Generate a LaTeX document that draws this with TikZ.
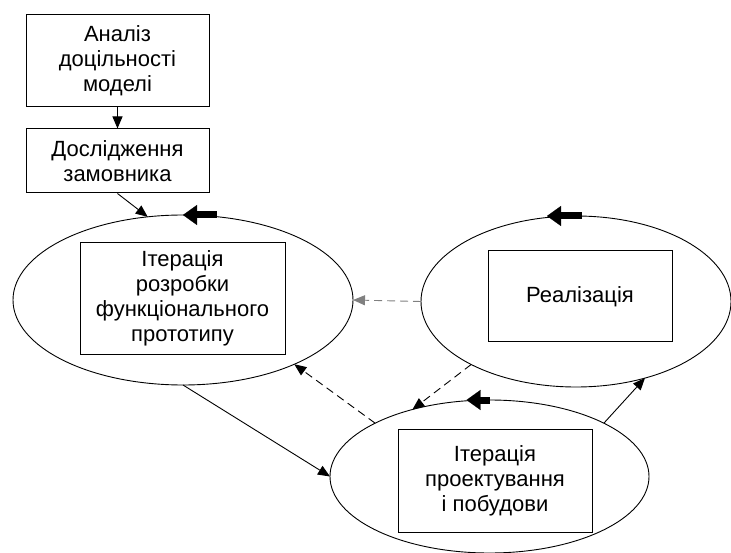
\documentclass[tikz,border=0pt]{standalone}
\usepackage{fontspec}
\setmainfont{Liberation Sans}
\usetikzlibrary{shapes.geometric,arrows.meta}
\begin{document}
\begin{tikzpicture}[x=1pt,y=-1pt,line width=0.9pt,
  every node/.style={font=\fontsize{22}{25}\selectfont},
  blk/.style={draw,line width=1pt,align=center,inner sep=0pt},
  ell/.style={draw,ellipse,inner sep=0pt,outer sep=0pt},
  con/.style={-{Triangle[length=12pt,width=10pt]}},
  dsh/.style={con,dash pattern=on 8pt off 5pt},
  fat/.style={line width=7pt,-{Triangle[length=14pt,width=20pt,line width=0.1pt]}}]
\useasboundingbox (0,0) rectangle (731,553);
% top boxes
\node[blk,minimum width=183pt,minimum height=92pt] (analiz) at (117.5,61) {Аналіз\\доцільності\\моделі};
\node[blk,minimum width=183pt,minimum height=64pt] (zamov) at (117.5,161) {Дослідження\\замовника};
% ellipses
\node[ell,minimum width=340pt,minimum height=170pt] (ellF) at (183,300) {};
\node[ell,minimum width=310pt,minimum height=171pt] (ellR) at (576,301.5) {};
\node[ell,minimum width=319pt,minimum height=153pt] (ellP) at (489.5,476.5) {};
% boxes inside
\node[blk,minimum width=205pt,minimum height=111pt] (boxF) at (182.5,298.5) {Ітерація\\розробки\\функціонального\\прототипу};
\node[blk,minimum width=184pt,minimum height=91pt] (boxR) at (580,296.5) {Реалізація};
\node[blk,minimum width=194pt,minimum height=103pt] (boxP) at (495,480.5) {Ітерація\\проектування\\і побудови};
% cycle direction
\draw[fat] ([xshift=34pt]ellF.north) -- (ellF.north);
\draw[fat] ([xshift=6pt]ellR.north) -- ([xshift=-29pt]ellR.north);
\draw[fat] (ellP.north) -- ([xshift=-23pt]ellP.north);
% flows
\draw[con] (analiz) -- (zamov);
\draw[con] (zamov.south) -- (ellF.113);
\draw[con] (ellF.south) -- (ellP.west);
\draw[con] (ellP.25) -- (ellR.-48);
\draw[dsh,gray] (ellR.west) -- (ellF.east);
\draw[dsh] (ellP.155) -- (ellF.-30);
\draw[dsh] (ellR.-149) -- (ellP.139);
\end{tikzpicture}
\end{document}
